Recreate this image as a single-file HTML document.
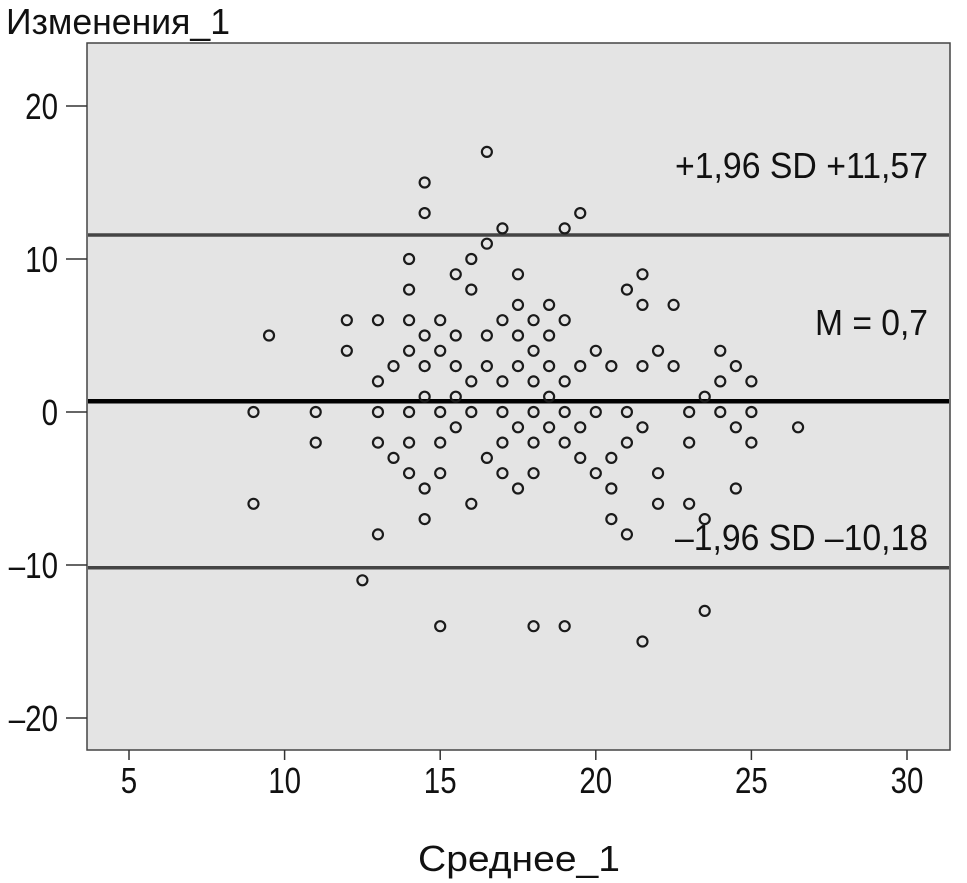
<!DOCTYPE html>
<html><head><meta charset="utf-8"><style>
html,body{margin:0;padding:0;background:#fff;}
svg{display:block;font-family:"Liberation Sans Narrow","Liberation Sans",sans-serif;}
</style></head><body>
<svg id="chart" width="967" height="883" viewBox="0 0 967 883">
<text x="6" y="34" font-size="36" textLength="224" lengthAdjust="spacingAndGlyphs" fill="#111">Изменения_1</text>
<rect x="87" y="43" width="863" height="707" fill="#e4e4e4" stroke="#444" stroke-width="1.5"/>
<g id="axes"></g>
<g id="lines"></g>
<g id="points"></g>
<text x="675" y="178" font-size="36" textLength="253" lengthAdjust="spacingAndGlyphs" fill="#111">+1,96 SD +11,57</text>
<text x="815" y="335" font-size="36" textLength="113" lengthAdjust="spacingAndGlyphs" fill="#111">M = 0,7</text>
<text x="675" y="550" font-size="36" textLength="253" lengthAdjust="spacingAndGlyphs" fill="#111">–1,96 SD –10,18</text>
<text x="418" y="871" font-size="36" textLength="202" lengthAdjust="spacingAndGlyphs" fill="#111">Среднее_1</text>
</svg>
<script>
const xTicks=[5,10,15,20,25,30];
const yTicks=[20,10,0,-10,-20];
const yTickLabels=["20","10","0","–10","–20"];
const refValues=[11.57,0.7,-10.18];
const refNames=["upper-limit-line","mean-line","lower-limit-line"];
const xMeans=[9,9,9.5,11,11,12,12,12.5,13,13,13,13,13,13.5,13.5,14,14,14,14,14,14,14,14.5,14.5,14.5,14.5,14.5,14.5,14.5,15,15,15,15,15,15,15.5,15.5,15.5,15.5,15.5,16,16,16,16,16,16.5,16.5,16.5,16.5,16.5,17,17,17,17,17,17,17.5,17.5,17.5,17.5,17.5,17.5,18,18,18,18,18,18,18,18.5,18.5,18.5,18.5,18.5,19,19,19,19,19,19,19.5,19.5,19.5,19.5,20,20,20,20.5,20.5,20.5,20.5,21,21,21,21,21.5,21.5,21.5,21.5,21.5,22,22,22,22.5,22.5,23,23,23,23.5,23.5,23.5,24,24,24,24.5,24.5,24.5,25,25,25,26.5];
const yDiffs=[0,-6,5,0,-2,6,4,-11,6,2,0,-2,-8,3,-3,10,8,6,4,0,-2,-4,15,13,5,3,1,-5,-7,6,4,0,-2,-4,-14,9,5,3,1,-1,10,8,2,0,-6,17,11,5,3,-3,12,6,2,0,-2,-4,9,7,5,3,-1,-5,6,4,2,0,-2,-4,-14,7,5,3,1,-1,12,6,2,0,-2,-14,13,3,-1,-3,4,0,-4,3,-3,-5,-7,8,0,-2,-8,9,7,3,-1,-15,4,-4,-6,7,3,0,-2,-6,1,-7,-13,4,2,0,3,-1,-5,2,0,-2,-1];
const NS="http://www.w3.org/2000/svg";
function sx(v){return 129+(v-5)*(907-129)/25;}
function sy(v){return 412-v*(412-106)/20;}
function mk(tag,attrs,parent){const e=document.createElementNS(NS,tag);for(const k in attrs)e.setAttribute(k,attrs[k]);parent.appendChild(e);return e;}
const axes=document.getElementById('axes');
xTicks.forEach(t=>{
  const l=mk('line',{x1:sx(t),x2:sx(t),y1:750,y2:760,stroke:'#333','stroke-width':1.5},axes);
  
  
  const tx=mk('text',{transform:'translate('+sx(t)+',793) scale(0.82,1)','font-size':36,'text-anchor':'middle',fill:'#111'},axes);
  tx.textContent=String(t);
  
  
});
yTicks.forEach((t,i)=>{
  const l=mk('line',{x1:66,x2:87,y1:sy(t),y2:sy(t),stroke:'#333','stroke-width':1.5},axes);
  
  
  const tx=mk('text',{transform:'translate(58,'+(sy(t)+13)+') scale(0.82,1)','font-size':36,'text-anchor':'end',fill:'#111'},axes);
  tx.textContent=yTickLabels[i];
  
  
});
const lines=document.getElementById('lines');
refValues.forEach((v,i)=>{
  const l=mk('line',{x1:88,x2:949,y1:sy(v),y2:sy(v),stroke:i===1?'#000':'#444','stroke-width':i===1?4.5:3.5},lines);
  
  
});
const pts=document.getElementById('points');
xMeans.forEach((x,i)=>{
  const c=mk('circle',{cx:sx(x),cy:sy(yDiffs[i]),r:5,fill:'none',stroke:'#1a1a1a','stroke-width':2.2},pts);
  
  
});
</script>
</body></html>
